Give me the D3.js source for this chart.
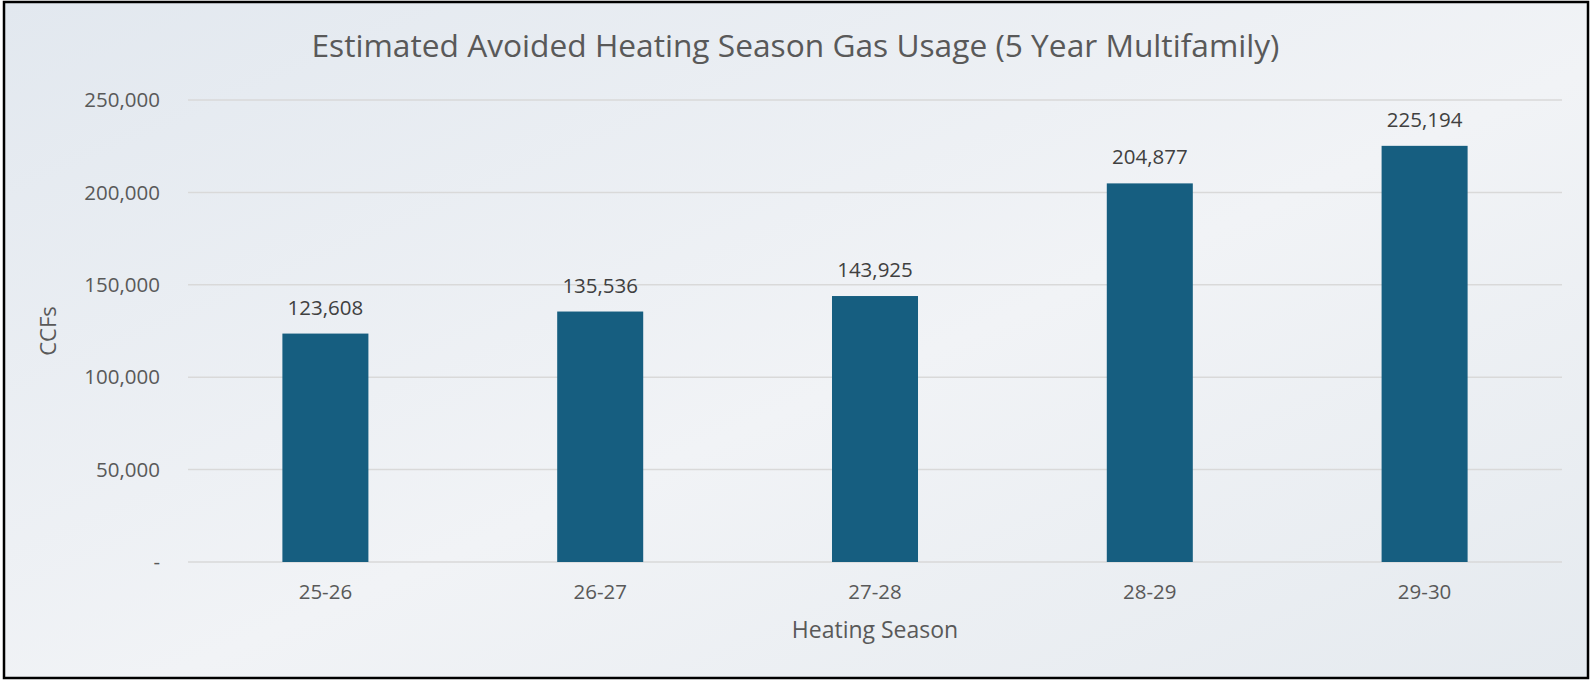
<!DOCTYPE html>
<html>
<head>
<meta charset="utf-8">
<script src="https://cdn.jsdelivr.net/npm/d3@7"></script>
<style>
  html, body { margin: 0; padding: 0; background: #ffffff; }
  svg { display: block; }
  text { font-family: "Open Sans", "Liberation Sans", sans-serif; fill: #595959; }
</style>
</head>
<body>
<div id="chart"></div>
<script>
// chart data
var seasons = ["25-26", "26-27", "27-28", "28-29", "29-30"];
var ccfValues = [123608, 135536, 143925, 204877, 225194];
var yTicks = [0, 50000, 100000, 150000, 200000, 250000];

var chartTitle = "Estimated Avoided Heating Season Gas Usage (5 Year Multifamily)";
var xTitle = "Heating Season";
var yTitle = "CCFs";

var w = 1591;
var h = 681;
var margin = { top: 100, right: 29, bottom: 119, left: 188 };

var svg = d3.select("#chart")
  .append("svg")
  .attr("width", w)
  .attr("height", h);

// soft background gradient
var defs = svg.append("defs");
var grad = defs.append("linearGradient")
  .attr("id", "bg")
  .attr("x1", "0%").attr("y1", "0%")
  .attr("x2", "100%").attr("y2", "100%");
grad.append("stop").attr("offset", "0%").attr("stop-color", "#e2e8ef");
grad.append("stop").attr("offset", "55%").attr("stop-color", "#f1f3f6");
grad.append("stop").attr("offset", "100%").attr("stop-color", "#e5eaef");

svg.append("rect")
  .attr("x", 4).attr("y", 2)
  .attr("width", w - 7).attr("height", h - 5)
  .attr("fill", "url(#bg)")
  .attr("stroke", "#000")
  .attr("stroke-width", 2.5);

var x = d3.scaleBand()
  .domain(seasons)
  .range([margin.left, w - margin.right])
  .paddingInner(0.687)
  .paddingOuter(0.3435);

var y = d3.scaleLinear()
  .domain([0, 250000])
  .range([h - margin.bottom, margin.top]);

// gridlines
svg.append("g")
  .selectAll("line")
  .data(yTicks)
  .enter()
  .append("line")
  .attr("x1", margin.left)
  .attr("x2", w - margin.right)
  .attr("y1", function(d) { return y(d); })
  .attr("y2", function(d) { return y(d); })
  .attr("stroke", "#d9d9d9")
  .attr("stroke-width", 1.5);

// y axis labels
var fmt = d3.format(",");
svg.append("g")
  .selectAll("text")
  .data(yTicks)
  .enter()
  .append("text")
  .attr("x", 160)
  .attr("y", function(d) { return y(d); })
  .attr("dy", "0.35em")
  .attr("text-anchor", "end")
  .style("font-size", "20.5px")
  .text(function(d) { return d === 0 ? "-" : fmt(d); });

// bars
svg.append("g")
  .selectAll("rect")
  .data(ccfValues)
  .enter()
  .append("rect")
  .attr("x", function(d, i) { return x(seasons[i]); })
  .attr("y", function(d) { return y(d); })
  .attr("width", x.bandwidth())
  .attr("height", function(d) { return y(0) - y(d); })
  .attr("fill", "#165e80");

// value labels
svg.append("g")
  .selectAll("text")
  .data(ccfValues)
  .enter()
  .append("text")
  .attr("x", function(d, i) { return x(seasons[i]) + x.bandwidth() / 2; })
  .attr("y", function(d) { return y(d) - 19; })
  .attr("text-anchor", "middle")
  .style("font-size", "20.5px")
  .style("fill", "#404040")
  .text(function(d) { return fmt(d); });

// x axis labels
svg.append("g")
  .selectAll("text")
  .data(seasons)
  .enter()
  .append("text")
  .attr("x", function(d) { return x(d) + x.bandwidth() / 2; })
  .attr("y", 599)
  .attr("text-anchor", "middle")
  .style("font-size", "20.5px")
  .text(function(d) { return d; });

// titles
svg.append("text")
  .attr("x", (margin.left + w - margin.right) / 2)
  .attr("y", 638)
  .attr("text-anchor", "middle")
  .style("font-size", "23px")
  .text(xTitle);

svg.append("text")
  .attr("transform", "translate(56," + ((margin.top + h - margin.bottom) / 2) + ") rotate(-90)")
  .attr("text-anchor", "middle")
  .style("font-size", "22px")
  .text(yTitle);

svg.append("text")
  .attr("x", w / 2)
  .attr("y", 57)
  .attr("text-anchor", "middle")
  .style("font-size", "31.7px")
  .text(chartTitle);
</script>
</body>
</html>
